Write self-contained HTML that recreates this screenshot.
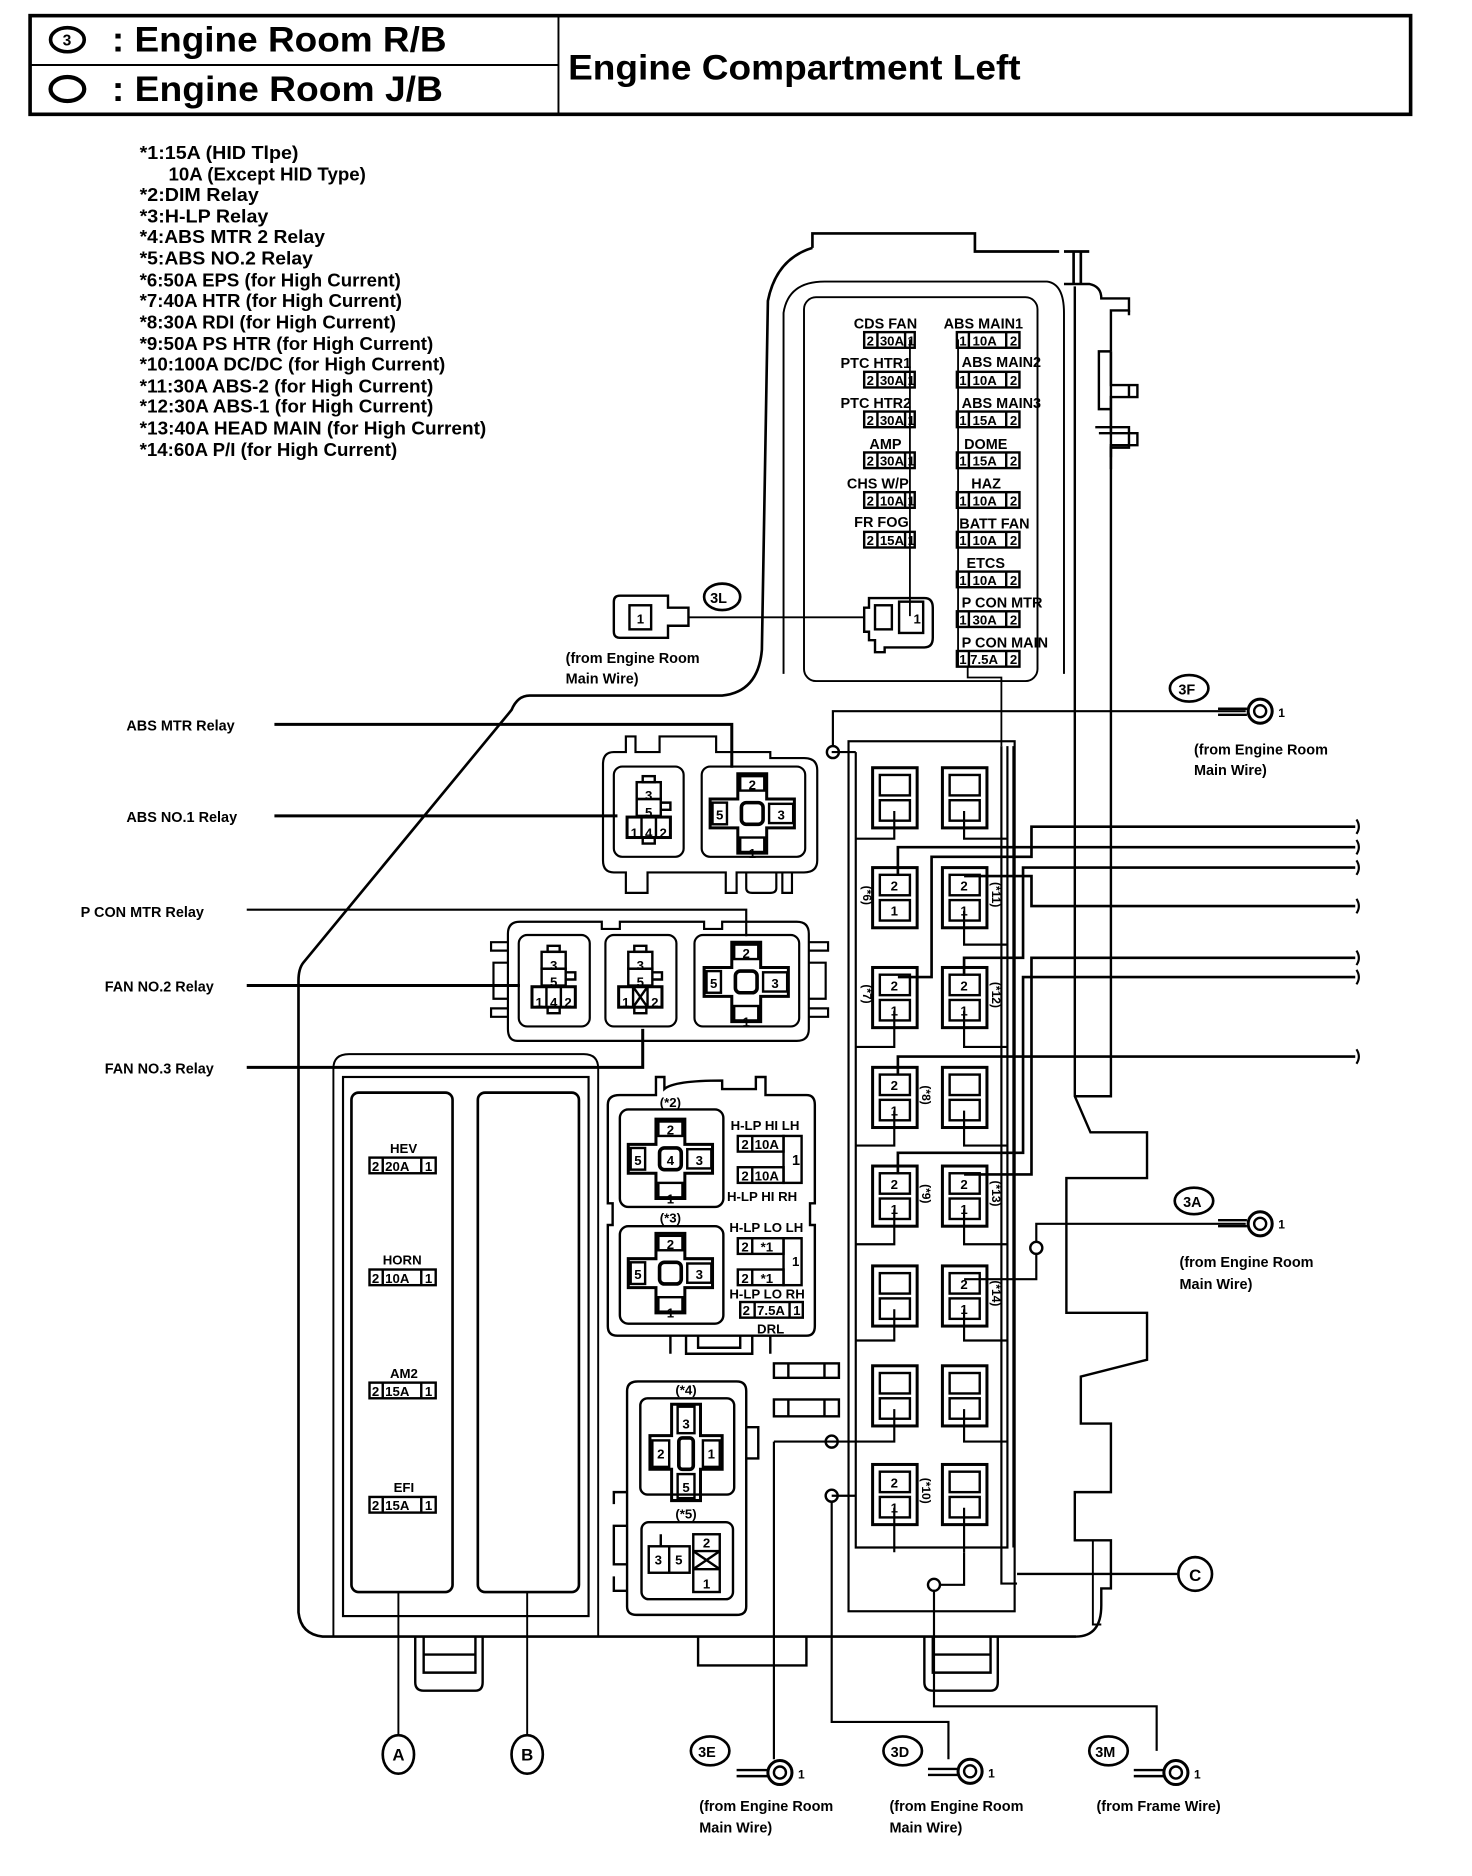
<!DOCTYPE html>
<html><head><meta charset="utf-8"><style>
html,body{margin:0;padding:0;background:#fff}
svg{display:block}
text{font-family:"Liberation Sans",sans-serif;fill:#000}
.n{font-size:15px;font-weight:bold}
.s{font-size:12px;font-weight:bold}
.f{font-size:11px;font-weight:bold}
</style></head><body>
<svg width="1472" height="1876" viewBox="0 0 1223 1559" preserveAspectRatio="none" xmlns="http://www.w3.org/2000/svg">
<g fill="none" stroke="#000" stroke-width="1.6">
<!-- header -->
<rect x="25" y="13" width="1147" height="82" stroke-width="3"/>
<line x1="464" y1="13" x2="464" y2="95"/>
<line x1="25" y1="54" x2="464" y2="54"/>
<ellipse cx="56" cy="33" rx="14" ry="10" stroke-width="3"/>
<ellipse cx="56" cy="74" rx="14" ry="10" stroke-width="3.5"/>

<!-- housing outer -->
<path d="M675,206 V194 H810 V209 H880 M884,209 H905 M892,209 V236 M898,209 V236" stroke-width="2.2"/>
<path d="M675,206 Q645,215 638,250 L633,540 Q630,575 600,578 H440 Q430,578 425,590 L252,800 Q248,805 248,815 V1340 Q250,1358 268,1360 H894" stroke-width="2.2"/>
<path d="M651,560 V260 Q655,234 685,234 H870 Q884,236 884,260 V560" stroke-width="1.6"/>
<path d="M884,236 H905 Q915,238 915,248 H938 V258 H923 V292" stroke-width="2"/>
<path d="M923,292 V320 H945 V330 H923 V360 H945 V370 H923 V390 M938,258 V262 M938,320 V330" stroke-width="2"/>
<path d="M923,292 H913 V340 H923 M913,360 H923" stroke-width="2"/>
<path d="M910,355 H938 V372 H923 V380" stroke-width="2"/>
<rect x="668" y="247" width="194" height="319" rx="10" stroke-width="1.6"/>
<path d="M893,238 V911 L906,941 H953 V979 H886 V1091 H953 V1130 L898,1144 V1183 H923 V1240 H893 V1280 H923 V1320 H915 V1334 Q915,1360 894,1360" stroke-width="2"/>
<path d="M923,292 V911 H893" stroke-width="2"/>
<path d="M908,1280 V1350 H915" stroke-width="1.6"/>
<!-- bottom tabs -->
<path d="M345,1360 V1398 Q345,1405 352,1405 H395 Q401,1405 401,1398 V1360 M352,1360 V1390 H395 V1360 M352,1375 H395" stroke-width="2"/>
<path d="M768,1360 V1398 Q768,1405 775,1405 H823 Q829,1405 829,1398 V1360 M775,1360 V1390 H823 V1360 M775,1375 H823" stroke-width="2"/>
<path d="M580,1360 V1384 H670 V1360" stroke-width="2"/>

<!-- A/B block -->
<path d="M277,1360 V888 Q277,876 290,876 H485 Q497,876 497,888 V1360" stroke-width="1.6"/>
<rect x="285" y="895" width="204" height="448" stroke-width="1.8"/>
<rect x="292" y="908" width="84" height="415" rx="6" stroke-width="2.2"/>
<rect x="397" y="908" width="84" height="415" rx="6" stroke-width="2.2"/>
<line x1="331" y1="1323" x2="331" y2="1442"/>
<line x1="438" y1="1323" x2="438" y2="1442"/>
<ellipse cx="331" cy="1458" rx="13" ry="16" stroke-width="2.2"/>
<ellipse cx="438" cy="1458" rx="13" ry="16" stroke-width="2.2"/>
</g>

<!-- header text -->
<text x="52" y="38" style="font-size:13px;font-weight:bold">3</text>
<text x="93" y="43" style="font-size:29px;font-weight:bold" textLength="278" lengthAdjust="spacingAndGlyphs">: Engine Room R/B</text>
<text x="93" y="84" style="font-size:29px;font-weight:bold" textLength="275" lengthAdjust="spacingAndGlyphs">: Engine Room J/B</text>
<text x="472" y="66" style="font-size:29px;font-weight:bold" textLength="376" lengthAdjust="spacingAndGlyphs">Engine Compartment Left</text>

<!-- notes -->
<g class="n">
<text x="116" y="132" textLength="132" lengthAdjust="spacingAndGlyphs">*1:15A (HID Tlpe)</text>
<text x="140" y="150" textLength="164" lengthAdjust="spacingAndGlyphs">10A (Except HID Type)</text>
<text x="116" y="167" textLength="99" lengthAdjust="spacingAndGlyphs">*2:DIM Relay</text>
<text x="116" y="185" textLength="107" lengthAdjust="spacingAndGlyphs">*3:H-LP Relay</text>
<text x="116" y="202" textLength="154" lengthAdjust="spacingAndGlyphs">*4:ABS MTR 2 Relay</text>
<text x="116" y="220" textLength="144" lengthAdjust="spacingAndGlyphs">*5:ABS NO.2 Relay</text>
<text x="116" y="238" textLength="217" lengthAdjust="spacingAndGlyphs">*6:50A EPS (for High Current)</text>
<text x="116" y="255" textLength="218" lengthAdjust="spacingAndGlyphs">*7:40A HTR (for High Current)</text>
<text x="116" y="273" textLength="213" lengthAdjust="spacingAndGlyphs">*8:30A RDI (for High Current)</text>
<text x="116" y="291" textLength="244" lengthAdjust="spacingAndGlyphs">*9:50A PS HTR (for High Current)</text>
<text x="116" y="308" textLength="254" lengthAdjust="spacingAndGlyphs">*10:100A DC/DC (for High Current)</text>
<text x="116" y="326" textLength="244" lengthAdjust="spacingAndGlyphs">*11:30A ABS-2  (for High Current)</text>
<text x="116" y="343" textLength="244" lengthAdjust="spacingAndGlyphs">*12:30A ABS-1  (for High Current)</text>
<text x="116" y="361" textLength="288" lengthAdjust="spacingAndGlyphs">*13:40A HEAD MAIN  (for High Current)</text>
<text x="116" y="379" textLength="214" lengthAdjust="spacingAndGlyphs">*14:60A P/I (for High Current)</text>
</g>

<!-- upper fuse block -->
<g class="s">
<text x="762" y="273" text-anchor="end">CDS FAN</text>
<text x="757" y="306" text-anchor="end">PTC HTR1</text>
<text x="757" y="339" text-anchor="end">PTC HTR2</text>
<text x="749" y="373" text-anchor="end">AMP</text>
<text x="755" y="406" text-anchor="end">CHS W/P</text>
<text x="755" y="438" text-anchor="end">FR FOG</text>
<text x="784" y="273">ABS MAIN1</text>
<text x="799" y="305">ABS MAIN2</text>
<text x="799" y="339">ABS MAIN3</text>
<text x="801" y="373">DOME</text>
<text x="807" y="406">HAZ</text>
<text x="797" y="439">BATT FAN</text>
<text x="803" y="472">ETCS</text>
<text x="799" y="505">P CON MTR</text>
<text x="799" y="538">P CON MAIN</text>
</g>
<g fill="none" stroke="#000" stroke-width="2">
<rect x="718" y="276" width="42" height="13"/><rect x="718" y="309" width="42" height="13"/><rect x="718" y="342" width="42" height="13"/><rect x="718" y="376" width="42" height="13"/><rect x="718" y="409" width="42" height="13"/><rect x="718" y="442" width="42" height="13"/>
<path d="M729,276v13M752,276v13M729,309v13M752,309v13M729,342v13M752,342v13M729,376v13M752,376v13M729,409v13M752,409v13M729,442v13M752,442v13"/>
<rect x="795" y="276" width="52" height="13"/><rect x="795" y="309" width="52" height="13"/><rect x="795" y="342" width="52" height="13"/><rect x="795" y="376" width="52" height="13"/><rect x="795" y="409" width="52" height="13"/><rect x="795" y="442" width="52" height="13"/><rect x="795" y="475" width="52" height="13"/><rect x="795" y="508" width="52" height="13"/><rect x="795" y="541" width="52" height="13"/>
<path d="M805,276v13M836,276v13M805,309v13M836,309v13M805,342v13M836,342v13M805,376v13M836,376v13M805,409v13M836,409v13M805,442v13M836,442v13M805,475v13M836,475v13M805,508v13M836,508v13M805,541v13M836,541v13"/>
<path d="M756,282 V512" stroke-width="1.5"/>
<path d="M796,282 V554 H804 V563 H832 V620" stroke-width="1.5"/>
</g>
<g class="f">
<text x="720" y="287">2</text><text x="731" y="287">30A</text><text x="754" y="287">1</text>
<text x="720" y="320">2</text><text x="731" y="320">30A</text><text x="754" y="320">1</text>
<text x="720" y="353">2</text><text x="731" y="353">30A</text><text x="754" y="353">1</text>
<text x="720" y="387">2</text><text x="731" y="387">30A</text><text x="754" y="387">1</text>
<text x="720" y="420">2</text><text x="731" y="420">10A</text><text x="754" y="420">1</text>
<text x="720" y="453">2</text><text x="731" y="453">15A</text><text x="754" y="453">1</text>
<text x="797" y="287">1</text><text x="808" y="287">10A</text><text x="839" y="287">2</text>
<text x="797" y="320">1</text><text x="808" y="320">10A</text><text x="839" y="320">2</text>
<text x="797" y="353">1</text><text x="808" y="353">15A</text><text x="839" y="353">2</text>
<text x="797" y="387">1</text><text x="808" y="387">15A</text><text x="839" y="387">2</text>
<text x="797" y="420">1</text><text x="808" y="420">10A</text><text x="839" y="420">2</text>
<text x="797" y="453">1</text><text x="808" y="453">10A</text><text x="839" y="453">2</text>
<text x="797" y="486">1</text><text x="808" y="486">10A</text><text x="839" y="486">2</text>
<text x="797" y="519">1</text><text x="808" y="519">30A</text><text x="839" y="519">2</text>
<text x="797" y="552">1</text><text x="806" y="552">7.5A</text><text x="839" y="552">2</text>
</g>

<!-- 3L connectors -->
<g fill="none" stroke="#000" stroke-width="2">
<path d="M722,497 H768 Q775,497 775,505 V530 Q775,538 768,538 H735 V542 H727 V532 H722 V525 H718 V505 H722 Z"/>
<rect x="727" y="503" width="14" height="20"/><rect x="747" y="500" width="20" height="26"/>
<path d="M515,495 H555 V505 H572 V520 H555 V530 H515 Q510,530 510,525 V500 Q510,495 515,495 Z"/>
<rect x="523" y="503" width="18" height="20"/>
<line x1="572" y1="513" x2="718" y2="513" stroke-width="1.6"/>
<ellipse cx="600" cy="496" rx="15" ry="11" stroke-width="2.2"/>
</g>
<text x="759" y="518" class="f">1</text><text x="529" y="518" class="f">1</text>
<text x="590" y="501" class="s">3L</text>
<text x="470" y="551" class="s">(from  Engine Room</text>
<text x="470" y="568" class="s">Main Wire)</text>

<!-- leader labels -->
<g class="s">
<text x="105" y="607">ABS MTR Relay</text>
<text x="105" y="683">ABS NO.1 Relay</text>
<text x="67" y="762">P CON MTR Relay</text>
<text x="87" y="824">FAN NO.2 Relay</text>
<text x="87" y="892">FAN NO.3 Relay</text>
</g>
<g fill="none" stroke="#000" stroke-width="1.8">
<path d="M228,602 H608 V638" stroke-width="2.5"/>
<path d="M228,678 H513" stroke-width="2.5"/>
<path d="M205,756 H620 V778"/>
<path d="M205,819 H432" stroke-width="2.5"/>
<path d="M205,887 H534 V855" stroke-width="2.5"/>

<!-- ABS relay block -->
<path d="M510,625 H520 V612 H528 V625 H548 V612 H595 V625 H640 V630 H668 Q679,630 679,640 V715 Q679,725 668,725 H612 V742 H603 V725 H538 V742 H520 V725 H510 Q501,725 501,715 V635 Q501,625 510,625 Z"/>
<path d="M620,725 V738 Q620,742 625,742 H640 Q645,742 645,738 V725 M650,725 V742 H658 V725"/>
<rect x="510" y="637" width="58" height="75" rx="7"/>
<rect x="583" y="637" width="86" height="75" rx="7"/>
<!-- FAN relay block -->
<path d="M432,766 H500 V772 H515 V766 H585 V772 H600 V766 H662 Q672,766 672,776 V855 Q672,865 662,865 H430 Q422,865 422,855 V776 Q422,766 432,766 Z"/>
<path d="M422,783 H408 V790 H422 M422,800 H410 V830 H422 M422,838 H408 V845 H422 M672,783 H688 V790 H672 M672,800 H686 V830 H672 M672,838 H688 V845 H672"/>
<rect x="431" y="777" width="59" height="76" rx="7"/>
<rect x="503" y="777" width="59" height="76" rx="7"/>
<rect x="577" y="777" width="87" height="76" rx="7"/>
</g>

<!-- 5 pin relays -->
<g fill="none" stroke="#000" stroke-width="2">
<g transform="translate(539,675)"><rect x="-5" y="-30" width="10" height="5"/><rect x="-10" y="-25" width="20" height="14"/><rect x="-10" y="-11" width="20" height="14"/><rect x="-18" y="4" width="36" height="17" stroke-width="2.5"/><path d="M-6,4v17M6,4v17M10,-8h8v6h-8"/><rect x="-5" y="21" width="10" height="5"/></g>
<g transform="translate(460,816)"><rect x="-5" y="-30" width="10" height="5"/><rect x="-10" y="-25" width="20" height="14"/><rect x="-10" y="-11" width="20" height="14"/><rect x="-18" y="4" width="36" height="17" stroke-width="2.5"/><path d="M-6,4v17M6,4v17M10,-8h8v6h-8"/><rect x="-5" y="21" width="10" height="5"/></g>
<g transform="translate(532,816)"><rect x="-5" y="-30" width="10" height="5"/><rect x="-10" y="-25" width="20" height="14"/><rect x="-10" y="-11" width="20" height="14"/><rect x="-18" y="4" width="36" height="17" stroke-width="2.5"/><path d="M-6,4v17M6,4v17M10,-8h8v6h-8M-6,4l12,17M6,4l-12,17"/><rect x="-5" y="21" width="10" height="5"/></g>
</g>
<g class="f" text-anchor="middle">
<text x="539" y="665">3</text><text x="539" y="679">5</text><text x="527" y="696">1</text><text x="539" y="696">4</text><text x="551" y="696">2</text>
<text x="460" y="806">3</text><text x="460" y="820">5</text><text x="448" y="837">1</text><text x="460" y="837">4</text><text x="472" y="837">2</text>
<text x="532" y="806">3</text><text x="532" y="820">5</text><text x="520" y="837">1</text><text x="544" y="837">2</text>
</g>

<!-- cross relays -->
<g fill="none" stroke="#000" stroke-width="2">
<g transform="translate(625,676)"><path d="M-12,-33H12V-12H35V12H12V33H-12V12H-35V-12H-12Z" stroke-width="2.5"/><rect x="-10" y="-31" width="20" height="12"/><rect x="-10" y="20" width="20" height="12"/><rect x="-33" y="-9" width="12" height="18"/><rect x="14" y="-8" width="20" height="16"/><rect x="-9" y="-9" width="18" height="18" rx="4" stroke-width="3"/></g>
<g transform="translate(620,816)"><path d="M-12,-33H12V-12H35V12H12V33H-12V12H-35V-12H-12Z" stroke-width="2.5"/><rect x="-10" y="-31" width="20" height="12"/><rect x="-10" y="20" width="20" height="12"/><rect x="-33" y="-9" width="12" height="18"/><rect x="14" y="-8" width="20" height="16"/><rect x="-9" y="-9" width="18" height="18" rx="4" stroke-width="3"/></g>
<g transform="translate(557,963)"><path d="M-12,-33H12V-12H35V12H12V33H-12V12H-35V-12H-12Z" stroke-width="2.5"/><rect x="-10" y="-31" width="20" height="12"/><rect x="-10" y="20" width="20" height="12"/><rect x="-33" y="-9" width="12" height="18"/><rect x="14" y="-8" width="20" height="16"/><rect x="-9" y="-9" width="18" height="18" rx="4" stroke-width="3"/></g>
<g transform="translate(557,1058)"><path d="M-12,-33H12V-12H35V12H12V33H-12V12H-35V-12H-12Z" stroke-width="2.5"/><rect x="-10" y="-31" width="20" height="12"/><rect x="-10" y="20" width="20" height="12"/><rect x="-33" y="-9" width="12" height="18"/><rect x="14" y="-8" width="20" height="16"/><rect x="-9" y="-9" width="18" height="18" rx="4" stroke-width="3"/></g>
<g transform="translate(570,1207)"><path d="M-12,-40H12V-14H30V14H12V40H-12V14H-30V-14H-12Z" stroke-width="2.5"/><rect x="-7" y="-38" width="14" height="22"/><rect x="-7" y="18" width="14" height="20"/><rect x="-28" y="-10" width="14" height="22"/><rect x="14" y="-10" width="14" height="22"/><rect x="-6" y="-12" width="12" height="26" rx="3" stroke-width="3"/></g>
<!-- H-LP block -->
<path d="M515,910 H545 V895 H552 V905 Q560,898 600,898 V905 H628 V895 H636 V910 H670 Q677,910 677,918 V1000 H673 V1018 H677 V1102 Q677,1110 670,1110 H513 Q505,1110 505,1102 V1018 H509 V1000 H505 V918 Q505,910 515,910 Z"/>
<path d="M570,1110 V1125 H625 V1110 M580,1110 V1120 H615 V1110 M557,1110V1125M640,1110V1125"/>
<rect x="515" y="922" width="86" height="81" rx="7"/>
<rect x="515" y="1019" width="86" height="81" rx="7"/>
<rect x="613" y="944" width="38" height="13"/><rect x="613" y="970" width="38" height="13"/><rect x="651" y="944" width="15" height="39"/>
<path d="M625,944v13M625,970v13"/>
<rect x="613" y="1029" width="38" height="13"/><rect x="613" y="1055" width="38" height="13"/><rect x="651" y="1029" width="15" height="39"/>
<path d="M625,1029v13M625,1055v13"/>
<rect x="615" y="1082" width="52" height="13"/><path d="M627,1082v13M656,1082v13"/>
<!-- small rects -->
<rect x="643" y="1133" width="54" height="12"/><path d="M655,1133v12M685,1133v12"/>
<rect x="643" y="1163" width="54" height="14"/><path d="M655,1163v14M685,1163v14"/>
<!-- *4 *5 block -->
<path d="M530,1148 H612 Q620,1148 620,1156 V1335 Q620,1342 612,1342 H529 Q521,1342 521,1335 V1156 Q521,1148 530,1148 Z"/>
<path d="M620,1186 H630 V1212 H620 M521,1240 H510 V1250 M521,1268 H510 V1300 H521 M510,1310 V1322 H521"/>
<rect x="532" y="1162" width="78" height="80" rx="6"/>
<rect x="533" y="1265" width="76" height="64" rx="6"/>
<rect x="539" y="1285" width="34" height="22"/><path d="M556,1285v22M549,1275v10"/>
<rect x="576" y="1275" width="22" height="48"/><path d="M576,1289h22M576,1304h22M576,1289l22,15M598,1289l-22,15"/>
</g>
<g class="f" text-anchor="middle">
<text x="625" y="656">2</text><text x="625" y="713">1</text><text x="598" y="681">5</text><text x="649" y="681">3</text>
<text x="620" y="796">2</text><text x="620" y="853">1</text><text x="593" y="821">5</text><text x="644" y="821">3</text>
<text x="557" y="943">2</text><text x="557" y="1000">1</text><text x="530" y="968">5</text><text x="557" y="968">4</text><text x="581" y="968">3</text>
<text x="557" y="1038">2</text><text x="557" y="1095">1</text><text x="530" y="1063">5</text><text x="581" y="1063">3</text>
<text x="570" y="1187">3</text><text x="570" y="1240">5</text><text x="549" y="1212">2</text><text x="591" y="1212">1</text>
<text x="547" y="1300">3</text><text x="564" y="1300">5</text><text x="587" y="1286">2</text><text x="587" y="1320">1</text>
<text x="557" y="920">(*2)</text><text x="557" y="1016">(*3)</text><text x="570" y="1159">(*4)</text><text x="570" y="1262">(*5)</text>
</g>
<g class="f">
<text x="607" y="939">H-LP HI LH</text>
<text x="616" y="955">2</text><text x="627" y="955">10A</text><text x="658" y="968" font-size="12">1</text>
<text x="616" y="981">2</text><text x="627" y="981">10A</text>
<text x="604" y="998">H-LP HI RH</text>
<text x="606" y="1024">H-LP LO LH</text>
<text x="616" y="1040">2</text><text x="632" y="1040">*1</text><text x="658" y="1052">1</text>
<text x="616" y="1066">2</text><text x="632" y="1066">*1</text>
<text x="606" y="1079">H-LP LO RH</text>
<text x="617" y="1093">2</text><text x="629" y="1093">7.5A</text><text x="659" y="1093">1</text>
<text x="629" y="1108">DRL</text>
</g>

<!-- A fuses -->
<g fill="none" stroke="#000" stroke-width="2">
<rect x="307" y="962" width="55" height="13"/><path d="M318,962v13M350,962v13"/>
<rect x="307" y="1055" width="55" height="13"/><path d="M318,1055v13M350,1055v13"/>
<rect x="307" y="1149" width="55" height="13"/><path d="M318,1149v13M350,1149v13"/>
<rect x="307" y="1244" width="55" height="13"/><path d="M318,1244v13M350,1244v13"/>
</g>
<g class="f">
<text x="324" y="958">HEV</text><text x="309" y="973">2</text><text x="320" y="973">20A</text><text x="353" y="973">1</text>
<text x="318" y="1051">HORN</text><text x="309" y="1066">2</text><text x="320" y="1066">10A</text><text x="353" y="1066">1</text>
<text x="324" y="1145">AM2</text><text x="309" y="1160">2</text><text x="320" y="1160">15A</text><text x="353" y="1160">1</text>
<text x="327" y="1240">EFI</text><text x="309" y="1255">2</text><text x="320" y="1255">15A</text><text x="353" y="1255">1</text>
</g>

<!-- relay grid -->
<g fill="none" stroke="#000" stroke-width="1.8">
<rect x="705" y="616" width="138" height="723"/>
<path d="M711,625 V1286 H837 V620 M842,620 V1286" />
<path d="M691,625 H711" />
<!-- boxes -->
<g stroke-width="2.5">
<rect x="725" y="638" width="37" height="50"/><rect x="783" y="638" width="37" height="50"/>
<rect x="725" y="721" width="37" height="50"/><rect x="783" y="721" width="37" height="50"/>
<rect x="725" y="804" width="37" height="50"/><rect x="783" y="804" width="37" height="50"/>
<rect x="725" y="887" width="37" height="50"/><rect x="783" y="887" width="37" height="50"/>
<rect x="725" y="969" width="37" height="50"/><rect x="783" y="969" width="37" height="50"/>
<rect x="725" y="1052" width="37" height="50"/><rect x="783" y="1052" width="37" height="50"/>
<rect x="725" y="1135" width="37" height="50"/><rect x="783" y="1135" width="37" height="50"/>
<rect x="725" y="1217" width="37" height="50"/><rect x="783" y="1217" width="37" height="50"/>
</g>
<g stroke-width="2">
<rect x="731" y="644" width="25" height="17"/><rect x="731" y="665" width="25" height="17"/><rect x="789" y="644" width="25" height="17"/><rect x="789" y="665" width="25" height="17"/>
<rect x="731" y="727" width="25" height="17"/><rect x="731" y="748" width="25" height="17"/><rect x="789" y="727" width="25" height="17"/><rect x="789" y="748" width="25" height="17"/>
<rect x="731" y="810" width="25" height="17"/><rect x="731" y="831" width="25" height="17"/><rect x="789" y="810" width="25" height="17"/><rect x="789" y="831" width="25" height="17"/>
<rect x="731" y="893" width="25" height="17"/><rect x="731" y="914" width="25" height="17"/><rect x="789" y="893" width="25" height="17"/><rect x="789" y="914" width="25" height="17"/>
<rect x="731" y="975" width="25" height="17"/><rect x="731" y="996" width="25" height="17"/><rect x="789" y="975" width="25" height="17"/><rect x="789" y="996" width="25" height="17"/>
<rect x="731" y="1058" width="25" height="17"/><rect x="731" y="1079" width="25" height="17"/><rect x="789" y="1058" width="25" height="17"/><rect x="789" y="1079" width="25" height="17"/>
<rect x="731" y="1141" width="25" height="17"/><rect x="731" y="1162" width="25" height="17"/><rect x="789" y="1141" width="25" height="17"/><rect x="789" y="1162" width="25" height="17"/>
<rect x="731" y="1223" width="25" height="17"/><rect x="731" y="1244" width="25" height="17"/><rect x="789" y="1223" width="25" height="17"/><rect x="789" y="1244" width="25" height="17"/>
</g>
<!-- bottom leads -->
<path d="M743,674 V697 H711 M801,674 V697 H837"/>
<path d="M801,757 V785 H837"/>
<path d="M743,840 V870 H711 M801,840 V870 H837"/>
<path d="M743,923 V952 H711 M801,923 V952 H837"/>
<path d="M743,1005 V1034 H711 M801,1005 V1034 H837"/>
<path d="M743,1088 V1114 H711 M801,1088 V1114 H837"/>
<path d="M743,1171 V1198 H643 M801,1171 V1198 H837"/>
<path d="M743,1253 V1290 M801,1253 V1290"/>
<path d="M711,1243 H691"/>
<!-- long vertical -->
<path d="M832,620 V1316 H845"/>
<!-- wires right -->
<g stroke-width="2.2">
<path d="M1126,687 H857 V712 H774 V812 H746"/>
<path d="M1126,704 H746 V728"/>
<path d="M1126,721 H850 V796 H801 V811"/>
<path d="M1126,753 H857 V728 H801"/>
<path d="M1126,796 H857 V976 H801"/>
<path d="M1126,812 H850 V958 H746 V976"/>
<path d="M1126,878 H746 V893"/>
</g>
<path d="M1127,681 q4,6 0,12 M1127,698 q4,6 0,12 M1127,715 q4,6 0,12 M1127,747 q4,6 0,12 M1127,790 q4,6 0,12 M1127,806 q4,6 0,12 M1127,872 q4,6 0,12"/>
<!-- 3F -->
<path d="M692,620 V591 H1035"/>
<circle cx="692" cy="625" r="5" stroke-width="2"/>
<path d="M1012,589 H1036 M1012,594 H1036" stroke-width="2"/>
<circle cx="1047" cy="591" r="10" stroke-width="2.5"/><circle cx="1047" cy="591" r="5" stroke-width="2"/>
<ellipse cx="988" cy="572" rx="16" ry="11" stroke-width="2.2"/>
<!-- 3A -->
<path d="M861,1032 V1017 H1035 M861,1042 V1063 H801"/>
<circle cx="861" cy="1037" r="5" stroke-width="2"/>
<path d="M1012,1014 H1036 M1012,1019 H1036" stroke-width="2"/>
<circle cx="1047" cy="1017" r="10" stroke-width="2.5"/><circle cx="1047" cy="1017" r="5" stroke-width="2"/>
<ellipse cx="992" cy="998" rx="16" ry="11" stroke-width="2.2"/>
<!-- C -->
<path d="M845,1308 H978" stroke-width="2"/>
<ellipse cx="993" cy="1308" rx="14" ry="14" stroke-width="2.2"/>
<!-- 3E 3D 3M -->
<path d="M643,1198 V1462"/>
<circle cx="691" cy="1198" r="5" stroke-width="2"/>
<path d="M691,1248 V1431 H788 V1462"/>
<circle cx="691" cy="1243" r="5" stroke-width="2"/>
<path d="M776,1322 V1418 H961 V1455 M781,1317 H801 V1290"/>
<circle cx="776" cy="1317" r="5" stroke-width="2"/>
<ellipse cx="590" cy="1455" rx="16" ry="12" stroke-width="2.2"/>
<ellipse cx="750" cy="1455" rx="16" ry="12" stroke-width="2.2"/>
<ellipse cx="921" cy="1455" rx="16" ry="12" stroke-width="2.2"/>
<path d="M612,1471 H638 M612,1476 H638 M771,1470 H797 M771,1475 H797 M942,1471 H968 M942,1476 H968" stroke-width="2"/>
<circle cx="648" cy="1473" r="10" stroke-width="2.5"/><circle cx="648" cy="1473" r="5" stroke-width="2"/>
<circle cx="806" cy="1472" r="10" stroke-width="2.5"/><circle cx="806" cy="1472" r="5" stroke-width="2"/>
<circle cx="977" cy="1473" r="10" stroke-width="2.5"/><circle cx="977" cy="1473" r="5" stroke-width="2"/>
</g>
<g class="f" text-anchor="middle">
<text x="743" y="658">&#8203;</text>
<text x="743" y="740">2</text><text x="743" y="761">1</text><text x="801" y="740">2</text><text x="801" y="761">1</text>
<text x="743" y="823">2</text><text x="743" y="844">1</text><text x="801" y="823">2</text><text x="801" y="844">1</text>
<text x="743" y="906">2</text><text x="743" y="927">1</text>
<text x="743" y="988">2</text><text x="743" y="1009">1</text><text x="801" y="988">2</text><text x="801" y="1009">1</text>
<text x="801" y="1071">2</text><text x="801" y="1092">1</text>
<text x="743" y="1236">2</text><text x="743" y="1257">1</text>
</g>
<g style="font-size:10px;font-weight:bold">
<text transform="translate(717,736) rotate(90)">(*6)</text>
<text transform="translate(717,818) rotate(90)">(*7)</text>
<text transform="translate(766,902) rotate(90)">(*8)</text>
<text transform="translate(766,984) rotate(90)">(*9)</text>
<text transform="translate(766,1228) rotate(90)">(*10)</text>
<text transform="translate(824,733) rotate(90)">(*11)</text>
<text transform="translate(824,816) rotate(90)">(*12)</text>
<text transform="translate(824,981) rotate(90)">(*13)</text>
<text transform="translate(824,1064) rotate(90)">(*14)</text>
</g>
<g class="s">
<text x="979" y="577">3F</text><text x="1062" y="596" style="font-size:10px">1</text>
<text x="992" y="627">(from  Engine Room</text><text x="992" y="644">Main Wire)</text>
<text x="983" y="1003">3A</text><text x="1062" y="1021" style="font-size:10px">1</text>
<text x="980" y="1053">(from  Engine Room</text><text x="980" y="1071">Main Wire)</text>
<text x="988" y="1314" style="font-size:14px">C</text>
<text x="326" y="1463" style="font-size:14px">A</text>
<text x="433" y="1463" style="font-size:14px">B</text>
<text x="580" y="1460">3E</text><text x="663" y="1478" style="font-size:10px">1</text>
<text x="740" y="1460">3D</text><text x="821" y="1477" style="font-size:10px">1</text>
<text x="910" y="1460">3M</text><text x="992" y="1478" style="font-size:10px">1</text>
<text x="581" y="1505">(from  Engine Room</text><text x="581" y="1523">Main Wire)</text>
<text x="739" y="1505">(from  Engine Room</text><text x="739" y="1523">Main Wire)</text>
<text x="911" y="1505">(from  Frame Wire)</text>
</g>
</svg>
</body></html>
